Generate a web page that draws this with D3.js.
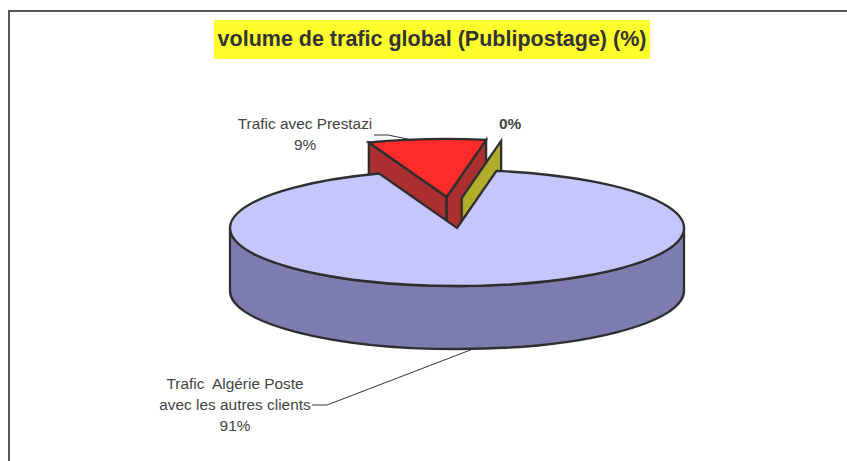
<!DOCTYPE html>
<html><head><meta charset="utf-8">
<script src="https://cdn.jsdelivr.net/npm/d3@7"></script>
<style>html,body{margin:0;padding:0;background:#fff}svg{display:block}</style>
</head><body><svg id="c" width="847" height="461"></svg>
<script>
const categories = ["Trafic  Algérie Poste|avec les autres clients", "Trafic avec Prestazi", ""];
const values = [91.65, 8.35, 0];
const percentLabels = ["91%", "9%", "0%"];
const titleText = "volume de trafic global (Publipostage) (%)";

const W = 847, H = 461;
const cx = 457, cy = 228, rx = 227, ry = 58, depth = 63;
const lift = ry / rx;
const ink = "#2e2e2e";
const svg = d3.select("#c");
svg.append("rect").attr("width", W).attr("height", H).attr("fill", "#fff");
svg.append("path").attr("d", `M9 461V11H847`).attr("fill", "none").attr("stroke", "#555").attr("stroke-width", 2);

svg.append("rect").attr("x", 214).attr("y", 20).attr("width", 436).attr("height", 39).attr("fill", "#ffff2e");
svg.append("text").attr("x", 432).attr("y", 46).attr("text-anchor", "middle")
  .attr("font-family", "Liberation Sans").attr("font-weight", "bold").attr("font-size", 21.5).attr("fill", "#333").text(titleText);

const startAngle = d3.scaleLinear().domain([0, 360]).range([0, 2 * Math.PI]);
const arcs = d3.pie().sort(null).value(d => d).startAngle(startAngle(10)).endAngle(startAngle(370))(values);
const pt = (a, r, ox = 0, oy = 0) => [cx + ox + r * Math.sin(a), cy + oy - r * lift * Math.cos(a)];
const topPath = (a0, a1, ox = 0, oy = 0) => {
  const c = pt(0, 0, ox, oy), s = pt(a0, rx, ox, oy), e = pt(a1, rx, ox, oy);
  const large = a1 - a0 > Math.PI ? 1 : 0;
  return `M${c[0]} ${c[1]}L${s[0]} ${s[1]}A${rx} ${ry} 0 ${large} 1 ${e[0]} ${e[1]}Z`;
};
const quad = (a, b) => `M${a[0]} ${a[1]}L${b[0]} ${b[1]}L${b[0]} ${b[1] + depth}L${a[0]} ${a[1] + depth}Z`;
const style = (sel, fill) => sel.attr("fill", fill).attr("stroke", ink).attr("stroke-width", 2.3).attr("stroke-linejoin", "miter");

const main = arcs[0], red = arcs[1], zero = arcs[2];
const rOff = [-10.3, -31], zOff = [4.7, -30];

// red slice walls, drawn first: the main pie covers their lower part
const rc = pt(0, 0, ...rOff);
style(svg.append("path").attr("d", quad(pt(red.startAngle, rx, ...rOff), rc)), "#ac2f2f");
style(svg.append("path").attr("d", quad(rc, pt(red.endAngle, rx, ...rOff))), "#ac2f2f");
style(svg.append("path").attr("d", topPath(red.startAngle, red.endAngle, ...rOff)), "#ff2a2a");
// zero slice wall
style(svg.append("path").attr("d", quad(pt(zero.startAngle, 0, ...zOff), pt(zero.startAngle, rx, ...zOff))), "#b0ad2c");

// main pie outer wall, then top
const l = [cx - rx, cy], r = [cx + rx, cy];
style(svg.append("path").attr("d", `M${l[0]} ${l[1]}V${l[1] + depth}A${rx} ${ry} 0 0 0 ${r[0]} ${r[1] + depth}V${r[1]}A${rx} ${ry} 0 0 1 ${l[0]} ${l[1]}Z`), "#7c7cb0");
style(svg.append("path").attr("d", topPath(main.startAngle, main.endAngle)), "#c6c6ff");

// leaders
const lead = d => svg.append("path").attr("d", d).attr("fill", "none").attr("stroke", "#333").attr("stroke-width", 1);
lead("M374 135L388 135L412 140");
lead("M312 405H327L473 349");

const label = (x, y, s, bold) => svg.append("text").attr("x", x).attr("y", y).attr("text-anchor", "middle")
  .attr("font-family", "Liberation Sans").attr("font-size", 15.4).attr("font-weight", bold ? "bold" : "normal")
  .attr("fill", "#444").style("white-space", "pre").text(s);
const [a1, a2] = categories[0].split("|");
label(235, 389, a1); label(235, 410, a2); label(235, 431, percentLabels[0]);
label(305, 129, categories[1]); label(305, 150, percentLabels[1]);
label(510, 129, percentLabels[2], true);
</script></body></html>
